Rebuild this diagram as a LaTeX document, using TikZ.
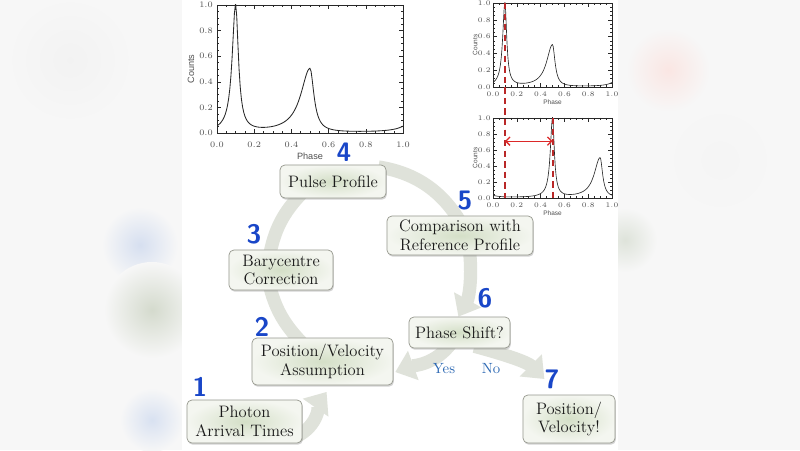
\documentclass[tikz,border=0pt]{standalone}
\usepackage{fontspec}
\newfontfamily\plotfont{Liberation Sans}
\usetikzlibrary{arrows.meta, shadows, backgrounds}
\definecolor{sidegray}{RGB}{247,247,247}
\definecolor{boxedge}{RGB}{150,152,142}
\definecolor{boxmid}{RGB}{212,223,199}
\definecolor{boxrim}{RGB}{244,246,240}
\definecolor{boxtext}{RGB}{25,25,25}
\definecolor{bandgray}{RGB}{223,226,218}
\definecolor{stepblue}{RGB}{25,70,200}
\definecolor{answerblue}{RGB}{45,105,180}
\definecolor{markred}{RGB}{185,40,40}
\definecolor{shiftred}{RGB}{220,40,40}
\definecolor{tracegray}{RGB}{40,40,40}
\definecolor{tickgray}{RGB}{80,80,80}
\tikzset{
    stage/.style={draw=boxedge, line width=0.5pt, rounded corners=3.5pt,
        inner color=boxmid, outer color=boxrim, text=boxtext,
        font=\fontsize{11.8}{13.3}\selectfont, align=center, inner sep=1pt,
        drop shadow={shadow xshift=0.6pt, shadow yshift=-1.2pt, opacity=0.35}},
    stepnum/.style={font=\fontsize{19}{19}\sffamily\bfseries\selectfont,
        text=stepblue, inner sep=0},
    answer/.style={font=\fontsize{10.5}{11}\selectfont, text=answerblue,
        inner sep=0},
    band/.style={draw=bandgray, line width=0.33cm, looseness=0.88},
    bandhead/.style={-{Triangle[width=0.75cm, length=0.48cm]}},
    markline/.style={markred, line width=1.4pt, dash pattern=on 4.5pt off 3pt},
    shiftarrow/.style={shiftred, line width=0.9pt,
        {Straight Barb[length=3pt]}-{Straight Barb[length=3pt]}},
    axisline/.style={draw=tracegray, line width=0.35pt},
    trace/.style={draw=tracegray, line width=0.6pt},
    xtick/.style={anchor=north, yshift=-6.5pt, inner sep=0, text=tickgray,
        font=\plotfont\fontsize{6.5}{7}\selectfont},
    ytick/.style={anchor=east, xshift=-2.8pt, inner sep=0, text=tickgray,
        font=\plotfont\fontsize{6.5}{7}\selectfont},
    xtitle/.style={anchor=north, yshift=-14pt, inner sep=0, text=tickgray,
        font=\plotfont\fontsize{6.5}{7}\selectfont},
    ytitle/.style={xshift=-16pt, rotate=90, anchor=south, inner sep=0,
        text=tickgray, font=\plotfont\fontsize{6.5}{7}\selectfont},
    smalllabels/.style={
        trace/.style={draw=tracegray, line width=0.45pt},
        xtick/.style={anchor=north, yshift=-3.2pt, inner sep=0, text=tickgray,
            font=\plotfont\fontsize{4.6}{5}\selectfont},
        ytick/.style={anchor=east, xshift=-1.5pt, inner sep=0, text=tickgray,
            font=\plotfont\fontsize{4.6}{5}\selectfont},
        xtitle/.style={anchor=north, yshift=-8.9pt, inner sep=0, text=tickgray,
            font=\plotfont\fontsize{4.6}{5}\selectfont},
        ytitle/.style={xshift=-10.8pt, rotate=90, anchor=south, inner sep=0,
            text=tickgray, font=\plotfont\fontsize{4.6}{5}\selectfont},
    },
    profileplot/.pic={
        \begin{scope}
            \clip (0,0) rectangle (1,1);
            \draw[trace] plot[domain=0:1, samples=161] (\x, {prof(\x,#1)});
        \end{scope}
        \draw[axisline] (0,0) rectangle (1,1);
        \foreach \i in {1,...,19} {
            \pgfmathsetmacro{\tk}{\i/20}
            \draw[axisline] (\tk,0) -- ++(0,1.5pt) (\tk,1) -- ++(0,-1.5pt)
                (0,\tk) -- ++(1.5pt,0) (1,\tk) -- ++(-1.5pt,0);
        }
        \foreach \i in {0,...,5} {
            \pgfmathsetmacro{\tk}{\i/5}
            \draw[axisline] (\tk,0) -- ++(0,3pt) (\tk,1) -- ++(0,-3pt)
                (0,\tk) -- ++(3pt,0) (1,\tk) -- ++(-3pt,0);
            \node[xtick] (xt\i) at (\tk,0)
                {\pgfmathprintnumber[fixed,fixed zerofill,precision=1]{\tk}};
            \node[ytick] (yt\i) at (0,\tk)
                {\pgfmathprintnumber[fixed,fixed zerofill,precision=1]{\tk}};
        }
        \node[xtitle] (phase) at (0.5,0) {Phase};
        \node[ytitle] (counts) at (0,0.5) {Counts};
    },
}

\begin{document}
\begin{tikzpicture}[x=0.025cm, y=0.025cm,
    declare function={
        sq(\v)=\v*\v;
        lorentz(\u,\m,\wl,\wr)=1/(1+sq((\u-\m)/((\u<\m)*\wl+(\u>=\m)*\wr)));
        prof(\u,\s)=lorentz(\u,\s,0.022,0.018)+lorentz(\u,\s+1,0.022,0.018)
            +lorentz(\u,\s-1,0.022,0.018)
            +0.5*(lorentz(\u,\s+0.4,0.06,0.025)+lorentz(\u,\s-0.6,0.06,0.025)
            +lorentz(\u,\s+1.4,0.06,0.025));
    }]
\useasboundingbox (0,0) rectangle (800,450);

% blurred surround and white panel
\begin{scope}[on background layer]
    \fill[sidegray] (0,0) rectangle (800,450);
    \shade[inner color=black!5, outer color=sidegray] (70,390) circle (65);
    \shade[inner color={rgb,255:red,214;green,223;blue,240}, outer color=sidegray]
        (140,205) circle (38);
    \shade[inner color={rgb,255:red,212;green,218;blue,205}, outer color=sidegray]
        (152,140) circle (48);
    \shade[inner color={rgb,255:red,216;green,225;blue,241}, outer color=sidegray]
        (152,30) circle (32);
    \shade[inner color={rgb,255:red,250;green,230;blue,227}, outer color=sidegray]
        (668,380) circle (42);
    \shade[inner color=black!4, outer color=sidegray] (720,290) circle (60);
    \shade[inner color={rgb,255:red,222;green,227;blue,218}, outer color=sidegray]
        (625,210) circle (32);
    \fill[white] (182,0) rectangle (618,450);
\end{scope}

% pulse profiles
\begin{scope}[shift={(217,317)}, x=4.65cm, y=3.2cm]
    \pic (main) {profileplot=0.1};
\end{scope}
\begin{scope}[shift={(493,363)}, x=2.975cm, y=2.1cm, smalllabels]
    \pic (ref) {profileplot=0.1};
    \coordinate (refpeak) at (0.1,1);
\end{scope}
\begin{scope}[shift={(493,252)}, x=2.975cm, y=2cm, smalllabels]
    \pic (obs) {profileplot=0.5};
    \coordinate (reffoot) at (0.1,0);
    \coordinate (obspeak) at (0.5,1);
    \coordinate (obsfoot) at (0.5,0);
    \coordinate (refmark) at (0.1,0.71);
    \coordinate (obsmark) at (0.5,0.71);
\end{scope}
\draw[markline] (refpeak) -- (reffoot);
\draw[markline] (obspeak) -- (obsfoot);
\draw[shiftarrow] (refmark) -- (obsmark);

% stages
\node[stage, minimum width=2.875cm, minimum height=1.075cm] (photon)
    at (244.5,28.5) {Photon\\Arrival Times};
\node[stage, minimum width=3.525cm, minimum height=1.175cm] (assume)
    at (322.5,88.5) {Position/Velocity\\Assumption};
\node[stage, minimum width=2.6cm, minimum height=1cm] (bary)
    at (281,180) {Barycentre\\Correction};
\node[stage, minimum width=2.65cm, minimum height=0.825cm] (pulse)
    at (333,268.5) {Pulse Profile};
\node[stage, minimum width=3.65cm, minimum height=0.975cm] (compare)
    at (460,214.5) {Comparison with\\Reference Profile};
\node[stage, minimum width=2.525cm, minimum height=0.775cm] (shift)
    at (459.5,117.5) {Phase Shift?};
\node[stage, minimum width=2.3cm, minimum height=1.2cm] (result)
    at (569,31) {Position/\\Velocity!};

\node[stepnum] (step1) at (200,63) {1};
\node[stepnum] (step2) at (262,123) {2};
\node[stepnum] (step3) at (254,216) {3};
\node[stepnum] (step4) at (344,298) {4};
\node[stepnum] (step5) at (465,249) {5};
\node[stepnum] (step6) at (485,152) {6};
\node[stepnum] (step7) at (552,71) {7};

\node[answer] (yes) at (444,81) {Yes};
\node[answer] (no) at (491,81) {No};

% grey arrows behind the boxes
\begin{scope}[on background layer]
    \draw[band, shorten <=-0.2cm, shorten >=-0.2cm]
        (assume.137) to[out=134, in=283] (bary.243);
    \draw[band, shorten <=-0.2cm, shorten >=-0.2cm]
        (bary.117) to[out=80, in=226] (pulse.205);
    \draw[band, shorten <=-0.2cm, shorten >=-0.2cm]
        (pulse.14) to[out=-9, in=121] (compare.100);
    \draw[band, bandhead, shorten <=-0.2cm]
        (compare.-63) to[out=-83, in=61] (shift.94);
    \draw[band, bandhead, shorten <=-0.2cm, shorten >=0.2cm]
        (photon.-12) to[out=25, in=235] (assume.-70);
    \draw[band, bandhead, shorten <=-0.2cm, shorten >=0.05cm]
        (shift.233) to[out=235, in=20] (assume.-9);
    \draw[band, bandhead, shorten <=-0.2cm]
        (shift.-35) to[out=-15, in=135] (step7.west);
\end{scope}
\end{tikzpicture}
\end{document}
